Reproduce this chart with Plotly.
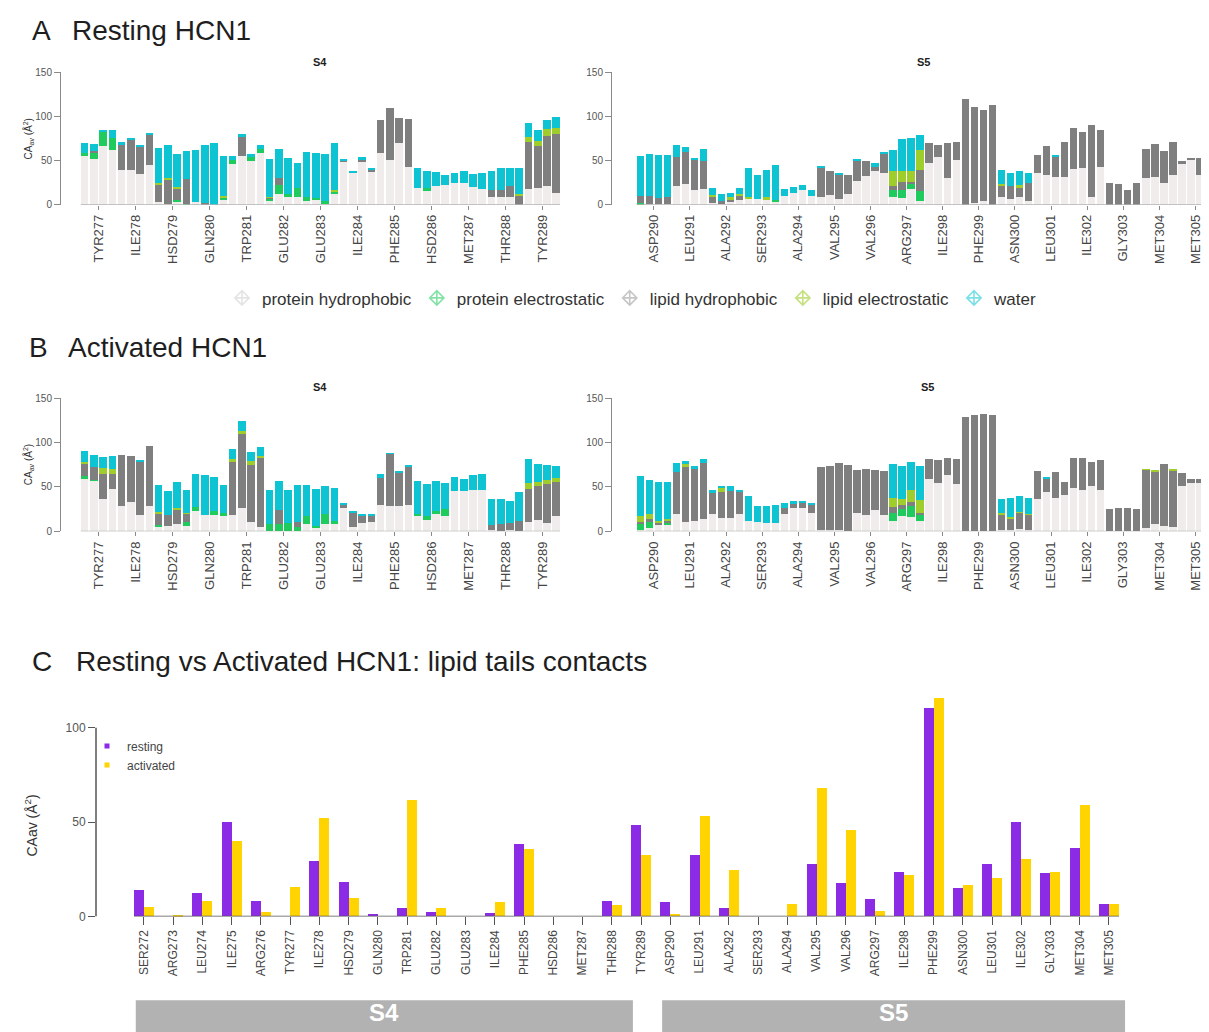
import plotly.graph_objects as go

# page has an 8px body margin; figure is sized/positioned so it lands on the 1209x1032 frame
W, H = 1209, 1032
OFF = 8
FW, FH = W - OFF, H - OFF

# ---------------- DATA ----------------
S4_RES = ["TYR277", "ILE278", "HSD279", "GLN280", "TRP281", "GLU282", "GLU283",
          "ILE284", "PHE285", "HSD286", "MET287", "THR288", "TYR289"]
S5_RES = ["ASP290", "LEU291", "ALA292", "SER293", "ALA294", "VAL295", "VAL296", "ARG297",
          "ILE298", "PHE299", "ASN300", "LEU301", "ILE302", "GLY303", "MET304", "MET305"]
REPLICAS = 4
COMPONENTS = ["protein hydrophobic", "protein electrostatic", "lipid hydrophobic",
              "lipid electrostatic", "water"]

# Panel A (resting), S4 - 4 replicas per residue
A_S4_PH = [55, 52, 66, 62, 39, 39, 35, 45, 3, 1, 3, 0, 3, 0, 0, 5, 46, 55, 49, 58, 4, 12, 8, 8,
           4, 6, 1, 12, 48, 36, 48, 37, 58, 51, 70, 43, 19, 15, 21, 22, 24, 24, 20, 18, 9, 9, 9, 0,
           18, 19, 21, 13]
A_S4_PE = [3, 7, 16, 14, 0, 0, 0, 0, 0, 0, 2, 1, 0, 0, 0, 3, 4, 0, 5, 5, 3, 10, 4, 11,
           4, 1, 3, 3, 0, 0, 0, 0, 0, 0, 0, 0, 0, 4, 0, 0, 0, 0, 0, 0, 0, 0, 0, 0,
           0, 0, 0, 0]
A_S4_LH = [0, 2, 0, 0, 29, 34, 30, 34, 19, 27, 13, 28, 0, 2, 0, 0, 0, 22, 0, 0, 1, 8, 0, 0,
           0, 0, 0, 0, 2, 0, 3, 2, 38, 59, 28, 54, 0, 0, 0, 0, 0, 0, 0, 0, 7, 7, 12, 10,
           53, 47, 57, 67]
A_S4_LE = [0, 0, 0, 0, 0, 0, 0, 0, 2, 2, 2, 0, 0, 0, 0, 2, 0, 0, 0, 0, 1, 0, 0, 0,
           0, 0, 0, 2, 0, 0, 0, 0, 0, 0, 0, 0, 0, 0, 0, 0, 0, 0, 0, 0, 0, 0, 0, 2,
           6, 6, 8, 7]
A_S4_W = [12, 8, 2, 9, 3, 3, 3, 2, 40, 38, 37, 32, 59, 65, 70, 45, 5, 3, 3, 4, 43, 33, 41, 28,
          52, 52, 53, 53, 2, 2, 3, 3, 0, 0, 0, 0, 23, 19, 16, 12, 12, 14, 15, 18, 22, 25, 20, 29,
          15, 13, 10, 12]

# Panel A (resting), S5
A_S5_PH = [0, 1, 1, 1, 21, 23, 17, 18, 2, 1, 3, 5, 7, 6, 6, 3, 10, 13, 16, 10, 8, 11, 6, 12,
           27, 32, 38, 36, 8, 7, 18, 4, 47, 54, 30, 50, 0, 2, 4, 0, 8, 6, 8, 4, 36, 33, 31, 31,
           40, 42, 8, 43, 0, 0, 0, 0, 30, 31, 25, 33, 46, 50, 34, 46]
A_S5_PE = [2, 0, 0, 0, 0, 0, 0, 0, 0, 0, 0, 0, 0, 0, 0, 2, 0, 0, 0, 0, 0, 0, 0, 0,
           0, 0, 0, 0, 9, 10, 5, 11, 0, 0, 0, 0, 0, 0, 0, 0, 0, 0, 0, 0, 0, 0, 0, 0,
           0, 0, 0, 0, 0, 0, 0, 0, 0, 0, 0, 0, 0, 0, 0, 0]
A_S5_LH = [8, 9, 6, 7, 33, 37, 33, 31, 6, 3, 2, 5, 0, 0, 0, 0, 0, 0, 0, 0, 34, 27, 28, 22,
           22, 17, 5, 22, 4, 9, 3, 24, 23, 14, 40, 21, 120, 109, 103, 113, 13, 15, 11, 20,
           20, 33, 23, 40, 47, 40, 82, 42, 25, 23, 17, 24, 33, 38, 36, 38, 3, 3, 19, 2]
A_S5_LE = [0, 0, 0, 0, 0, 0, 0, 0, 3, 0, 4, 2, 2, 0, 2, 0, 0, 0, 0, 0, 0, 0, 0, 0,
           0, 0, 0, 0, 17, 12, 12, 23, 0, 0, 0, 0, 0, 0, 0, 0, 2, 0, 3, 0, 0, 0, 0, 0,
           0, 0, 0, 0, 0, 0, 0, 0, 0, 0, 0, 0, 0, 0, 0, 0]
A_S5_W = [45, 47, 49, 48, 13, 5, 3, 14, 8, 8, 4, 7, 33, 28, 31, 40, 8, 7, 6, 7, 2, 0, 1, 0,
          3, 0, 4, 2, 24, 36, 37, 17, 0, 0, 0, 0, 0, 0, 0, 0, 16, 15, 16, 12, 0, 0, 2, 0,
          0, 0, 0, 0, 0, 0, 0, 0, 0, 0, 0, 0, 0, 0, 0, 0]

# Panel B (activated), S4
B_S4_PH = [59, 57, 36, 48, 29, 33, 18, 29, 5, 6, 8, 6, 23, 18, 18, 17, 18, 26, 10, 5, 0, 0, 0, 0,
           8, 4, 8, 8, 26, 5, 9, 10, 30, 28, 29, 30, 17, 13, 20, 17, 45, 45, 47, 47, 1, 0, 2, 0,
           11, 13, 9, 17]
B_S4_PE = [3, 1, 0, 0, 0, 0, 0, 0, 2, 0, 0, 4, 4, 0, 5, 4, 0, 0, 0, 0, 8, 8, 9, 5,
           9, 2, 12, 4, 0, 0, 0, 0, 0, 0, 0, 0, 3, 4, 3, 8, 0, 0, 0, 0, 0, 0, 0, 0,
           0, 0, 0, 0]
B_S4_LH = [14, 14, 29, 17, 57, 52, 61, 67, 13, 12, 16, 10, 0, 0, 0, 0, 60, 84, 65, 77, 0, 16, 0, 6,
           0, 0, 0, 0, 4, 16, 8, 7, 30, 59, 37, 43, 0, 0, 0, 0, 0, 0, 0, 0, 6, 8, 7, 12,
           37, 38, 44, 38]
B_S4_LE = [2, 0, 6, 5, 0, 0, 0, 0, 2, 0, 2, 1, 0, 0, 0, 0, 3, 3, 4, 3, 0, 0, 0, 0,
           0, 0, 0, 0, 0, 0, 0, 0, 0, 0, 0, 0, 0, 0, 0, 0, 0, 0, 0, 0, 0, 0, 0, 0,
           6, 5, 5, 5]
B_S4_W = [12, 14, 13, 15, 0, 0, 1, 0, 30, 27, 29, 26, 38, 45, 38, 31, 12, 11, 10, 10, 39, 33, 37, 41,
          35, 42, 31, 37, 1, 2, 3, 3, 4, 1, 2, 2, 37, 36, 34, 29, 16, 14, 16, 17, 29, 28, 25, 32,
          27, 20, 17, 14]

# Panel B (activated), S5
B_S5_PH = [2, 4, 8, 8, 19, 11, 12, 14, 20, 15, 15, 19, 12, 10, 9, 9, 19, 26, 26, 21, 1, 1, 2, 0,
           21, 18, 24, 18, 12, 17, 16, 12, 59, 54, 63, 53, 0, 0, 0, 0, 2, 2, 3, 2, 36, 44, 38, 41,
           49, 46, 51, 47, 0, 0, 0, 0, 4, 8, 6, 5, 51, 54, 54, 52]
B_S5_PE = [6, 6, 0, 2, 0, 0, 0, 0, 0, 0, 0, 0, 0, 0, 0, 0, 0, 0, 0, 0, 0, 0, 0, 0,
           0, 0, 0, 0, 9, 8, 13, 7, 0, 0, 0, 0, 0, 0, 0, 0, 0, 0, 0, 0, 0, 0, 0, 0,
           0, 0, 0, 0, 0, 0, 0, 0, 0, 0, 0, 0, 0, 0, 0, 0]
B_S5_LH = [3, 4, 2, 2, 48, 61, 58, 63, 23, 29, 30, 26, 0, 0, 0, 0, 7, 5, 6, 9, 71, 72, 75, 75,
           48, 52, 45, 50, 6, 5, 4, 2, 22, 26, 19, 28, 129, 131, 132, 131, 17, 12, 18, 17,
           32, 15, 29, 15, 33, 36, 27, 33, 25, 26, 26, 25, 65, 59, 70, 63, 15, 5, 5, 6]
B_S5_LE = [6, 5, 2, 2, 0, 4, 0, 0, 0, 5, 0, 0, 0, 0, 0, 0, 0, 0, 0, 0, 0, 0, 0, 0,
           0, 0, 0, 0, 10, 6, 13, 14, 0, 0, 0, 0, 0, 0, 0, 0, 2, 2, 1, 1, 0, 0, 0, 0,
           0, 0, 0, 0, 0, 0, 0, 0, 1, 1, 0, 1, 0, 0, 0, 0]
B_S5_W = [45, 39, 44, 41, 10, 3, 4, 4, 3, 1, 6, 2, 28, 19, 20, 21, 6, 3, 2, 2, 0, 0, 0, 0,
          0, 0, 0, 0, 39, 38, 32, 38, 0, 0, 0, 0, 0, 0, 0, 0, 15, 22, 18, 17, 0, 1, 0, 0,
          0, 0, 0, 0, 0, 0, 0, 0, 0, 0, 0, 0, 0, 0, 0, 0]

# Panel C: lipid tails contacts
C_RES = ["SER272", "ARG273", "LEU274", "ILE275", "ARG276", "TYR277", "ILE278", "HSD279",
         "GLN280", "TRP281", "GLU282", "GLU283", "ILE284", "PHE285", "HSD286", "MET287",
         "THR288", "TYR289", "ASP290", "LEU291", "ALA292", "SER293", "ALA294", "VAL295",
         "VAL296", "ARG297", "ILE298", "PHE299", "ASN300", "LEU301", "ILE302", "GLY303",
         "MET304", "MET305"]
C_RESTING = [14, 0, 12.2, 49.8, 8.4, 0, 29.2, 18.2, 1.2, 4.2, 2.1, 0, 1.9, 38.5, 0, 0,
             8, 48.5, 7.5, 32.5, 4.2, 0, 0, 28, 17.8, 9.3, 23.8, 110.5, 15, 28, 49.8, 23,
             36.5, 6.8]
C_ACTIVATED = [4.9, 0.5, 7.9, 39.9, 2.3, 15.7, 52.3, 9.6, 0, 61.5, 4.2, 0, 7.5, 36, 0, 0,
               6, 32.5, 1.5, 53, 24.8, 0, 6.8, 68.2, 45.8, 3, 22, 115.7, 16.6, 20.6, 30.4, 23.8,
               59, 6.8]

# ---------------- STYLE ----------------
COLORS = ["#efeceb", "#1fcb5c", "#7f7f7f", "#9fcd2c", "#0fc4d2"]
LEG_COLORS = ["rgba(225,225,225,0.9)", "rgba(31,203,92,0.55)", "rgba(160,160,160,0.6)",
              "rgba(159,205,44,0.6)", "rgba(15,196,210,0.55)"]
C_COLORS = ["#8b2be6", "#ffd400"]
FONT = "Liberation Sans, Arial, Helvetica, sans-serif"


def fx(px):
    return (px - OFF) / FW


def fy(py):
    return 1 - (py - OFF) / FH


fig = go.Figure()

# panel geometry (pixels on the final frame): x0, x1, ytop, ybottom, x-range
panels = [
    ("x", "y", [A_S4_PH, A_S4_PE, A_S4_LH, A_S4_LE, A_S4_W], S4_RES, 61, 562, 67, 201, [-2.55, 51.62]),
    ("x2", "y2", [A_S5_PH, A_S5_PE, A_S5_LH, A_S5_LE, A_S5_W], S5_RES, 612, 1209, 67, 201, [-3.13, 63.0]),
    ("x3", "y3", [B_S4_PH, B_S4_PE, B_S4_LH, B_S4_LE, B_S4_W], S4_RES, 61, 562, 397, 532, [-2.55, 51.62]),
    ("x4", "y4", [B_S5_PH, B_S5_PE, B_S5_LH, B_S5_LE, B_S5_W], S5_RES, 612, 1209, 397, 532, [-3.13, 63.0]),
]

layout_axes = {}
shapes = []
for (xa, ya, comps, res, px0, px1, pyt, pyb, xr) in panels:
    n = len(res) * REPLICAS
    xs = list(range(n))
    for name, vals, col in zip(COMPONENTS, comps, COLORS):
        fig.add_trace(go.Bar(x=xs, y=vals, width=0.82, marker=dict(color=col, line=dict(width=0)),
                             name=name, showlegend=False, xaxis=xa, yaxis=ya, hoverinfo="skip"))
    xkey = "xaxis" + xa[1:]
    ykey = "yaxis" + ya[1:]
    layout_axes[xkey] = dict(domain=[fx(px0), min(1.0, fx(px1))], range=xr, anchor=ya,
                             tickmode="array",
                             tickvals=[REPLICAS * k + (REPLICAS - 1) / 2 for k in range(len(res))],
                             ticktext=res, tickangle=-90, ticks="outside", ticklen=4,
                             tickcolor="#8a8a8a", tickfont=dict(size=13, color="#454545", family=FONT),
                             ticklabeloverflow="allow",
                             showline=False, showgrid=False, zeroline=False, fixedrange=True)
    layout_axes[ykey] = dict(domain=[fy(pyb), fy(pyt)], range=[0, 150], anchor=xa,
                             tickvals=[0, 50, 100, 150], ticks="outside", ticklen=6,
                             tickcolor="#8a8a8a", tickfont=dict(size=10, color="#555555", family=FONT),
                             showline=True, linecolor="#8a8a8a", linewidth=1,
                             showgrid=False, zeroline=False)
    shapes.append(dict(type="line", xref=xa, yref=ya, x0=-0.41, x1=n - 0.59, y0=0, y1=0,
                       line=dict(color="#8a8a8a", width=1)))

# Panel C
nC = len(C_RES)
BW = 0.342
fig.add_trace(go.Bar(x=[i - BW / 2 for i in range(nC)], y=C_RESTING, width=BW,
                     marker=dict(color=C_COLORS[0], line=dict(width=0)), name="resting",
                     showlegend=False, xaxis="x5", yaxis="y5"))
fig.add_trace(go.Bar(x=[i + BW / 2 for i in range(nC)], y=C_ACTIVATED, width=BW,
                     marker=dict(color=C_COLORS[1], line=dict(width=0)), name="activated",
                     showlegend=False, xaxis="x5", yaxis="y5"))
layout_axes["xaxis5"] = dict(domain=[fx(96), fx(1135)], range=[-1.64, 33.89], anchor="y5",
                             tickmode="array", tickvals=list(range(nC)), ticktext=C_RES,
                             tickangle=-90, ticks="outside", ticklen=8, tickcolor="#555555",
                             tickfont=dict(size=12, color="#454545", family=FONT),
                             showline=False, showgrid=False, zeroline=False)
layout_axes["yaxis5"] = dict(domain=[fy(922), fy(922 - 120 * 1.91)], range=[0, 120], anchor="x5",
                             tickvals=[0, 50, 100], ticks="outside", ticklen=7, tickcolor="#555555",
                             tickfont=dict(size=12, color="#555555", family=FONT),
                             showline=False, showgrid=False, zeroline=False)
shapes.append(dict(type="line", xref="x5", yref="y5", x0=-BW, x1=nC - 1 + BW, y0=0, y1=0,
                   line=dict(color="#555555", width=1.5)))
shapes.append(dict(type="line", xref="paper", yref="y5", x0=fx(96), x1=fx(96), y0=0, y1=100,
                   line=dict(color="#555555", width=1.5)))

# S4 / S5 bands under panel C
i_s4a, i_s4b = C_RES.index("SER272"), C_RES.index("TYR289")
i_s5a, i_s5b = C_RES.index("ASP290"), C_RES.index("MET305")
bands = [("S4", i_s4a - 0.28, i_s4b - 0.28), ("S5", i_s5a - 0.28, i_s5b + 0.55)]
annotations = []
for lab, b0, b1 in bands:
    shapes.append(dict(type="rect", xref="x5", yref="paper", x0=b0, x1=b1, y0=fy(1040), y1=fy(1007),
                       fillcolor="#b2b2b2", line=dict(width=0), layer="below"))
    annotations.append(dict(x=(b0 + b1) / 2, y=fy(1019), xref="x5", yref="paper", text="<b>%s</b>" % lab,
                            showarrow=False, font=dict(size=24, color="white", family=FONT),
                            xanchor="center", yanchor="middle"))

# Legend proxies (panel A/B legend)
for name, col in zip(COMPONENTS, LEG_COLORS):
    fig.add_trace(go.Scatter(x=[None], y=[None], mode="markers", name=name,
                             marker=dict(symbol="diamond-cross-open", size=11, color=col,
                                         line=dict(width=1.6, color=col)),
                             xaxis="x", yaxis="y", legend="legend"))
# Legend proxies (panel C legend)
for name, col in zip(["resting", "activated"], C_COLORS):
    fig.add_trace(go.Scatter(x=[None], y=[None], mode="markers", name=name,
                             marker=dict(symbol="square", size=5, color=col),
                             xaxis="x5", yaxis="y5", legend="legend2"))


def txt(x, y, s, size, color="#1e1e1e", xanchor="left", angle=0, bold=False):
    annotations.append(dict(x=fx(x), y=fy(y), xref="paper", yref="paper",
                            text=("<b>%s</b>" % s) if bold else s, showarrow=False,
                            textangle=angle, xanchor=xanchor, yanchor="middle",
                            font=dict(size=size, color=color, family=FONT)))


txt(30, 25, "A", 28)
txt(70, 25, "Resting HCN1", 28)
txt(27, 346, "B", 28)
txt(66, 346, "Activated HCN1", 28)
txt(30, 664, "C", 28)
txt(74, 664, "Resting vs Activated HCN1: lipid tails contacts", 28)
txt(320, 57, "S4", 11, xanchor="center", bold=True)
txt(923, 57, "S5", 11, xanchor="center", bold=True)
txt(320, 386, "S4", 11, xanchor="center", bold=True)
txt(927, 386, "S5", 11, xanchor="center", bold=True)
txt(28, 135, "CA<sub>av</sub> (Å<sup>2</sup>)", 10, color="#333333", xanchor="center", angle=-90)
txt(28, 465, "CA<sub>av</sub> (Å<sup>2</sup>)", 10, color="#333333", xanchor="center", angle=-90)
txt(31, 830, "CAav (Å<sup>2</sup>)", 14, color="#333333", xanchor="center", angle=-90)

fig.update_layout(
    width=FW, height=FH, margin=dict(l=0, r=0, t=0, b=0),
    paper_bgcolor="white", plot_bgcolor="white",
    barmode="stack", bargap=0.18,
    font=dict(family=FONT, color="#333333"),
    shapes=shapes, annotations=annotations,
    legend=dict(orientation="h", x=fx(632), y=fy(296), xanchor="center", yanchor="middle",
                font=dict(size=17, color="#333333", family=FONT), bgcolor="rgba(0,0,0,0)",
                itemwidth=30, traceorder="normal"),
    legend2=dict(orientation="v", x=fx(87), y=fy(759), xanchor="left", yanchor="middle",
                 font=dict(size=12, color="#444444", family=FONT), bgcolor="rgba(0,0,0,0)",
                 itemwidth=30, tracegroupgap=0),
    showlegend=True,
    **layout_axes,
)

fig.write_html("out.html")
